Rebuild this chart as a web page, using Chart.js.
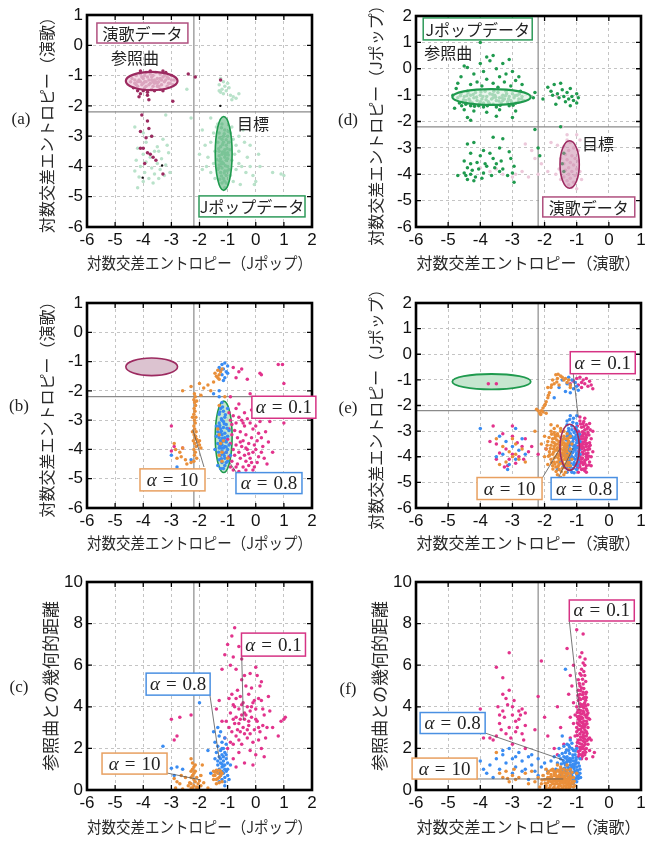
<!DOCTYPE html>
<html lang="ja"><head><meta charset="utf-8">
<script src="https://cdn.jsdelivr.net/npm/chart.js@4.4.1/dist/chart.umd.min.js"></script>
<style>
html,body{margin:0;padding:0;background:#fff;}
#wrap{position:relative;width:657px;height:843px;overflow:hidden;background:#fff;}
#wrap canvas{position:absolute;}
.pl{position:absolute;font:17px "Liberation Serif","DejaVu Serif",serif;color:#222;line-height:1;transform:translate(-50%,-50%);white-space:nowrap;}
</style></head><body>
<div id="wrap">
<canvas id="cA" width="328" height="280" style="left:0;top:0"></canvas>
<canvas id="cD" width="328" height="280" style="left:329px;top:0"></canvas>
<canvas id="cB" width="328" height="280" style="left:0;top:280px"></canvas>
<canvas id="cE" width="328" height="280" style="left:329px;top:280px"></canvas>
<canvas id="cC" width="328" height="283" style="left:0;top:560px"></canvas>
<canvas id="cF" width="328" height="283" style="left:329px;top:560px"></canvas>
<div class="pl" style="left:21px;top:118px">(a)</div>
<div class="pl" style="left:348px;top:119px">(d)</div>
<div class="pl" style="left:19px;top:405px">(b)</div>
<div class="pl" style="left:348px;top:407px">(e)</div>
<div class="pl" style="left:19px;top:686px">(c)</div>
<div class="pl" style="left:348px;top:688px">(f)</div>
</div>
<script>
// ---------- tick labels ----------
const ticksX8 = [-6,-5,-4,-3,-2,-1,0,1,2];
const ticksX7 = [-6,-5,-4,-3,-2,-1,0,1];
const ticksY7 = [-6,-5,-4,-3,-2,-1,0,1];
const ticksY8 = [-6,-5,-4,-3,-2,-1,0,1,2];
const ticksD = [0,2,4,6,8,10];
const refLine = -2.2;
// ---------- axis titles ----------
const T_JP = '対数交差エントロピー（Jポップ）';
const T_EN = '対数交差エントロピー（演歌）';
const T_DIST = '参照曲との幾何的距離';
// ---------- ellipses (center x, center y, radius x, radius y) ----------
const ellEnkaRef = [-3.7,-1.18,0.92,0.3];
const ellJpopTgt = [-1.14,-3.57,0.3,1.22];
const ellJpopRef = [-3.65,-1.07,1.22,0.3];
const ellEnkaTgt = [-1.22,-3.63,0.3,0.9];

// ---------- (a) ----------
const aEnka = [-4.4,-1.1,-4.3,-1.25,-4.25,-1.0,-4.2,-1.35,-4.15,-1.15,-4.1,-0.95,-4.05,-1.3,-4.0,-1.1,-3.95,-1.4,-3.9,-0.9,-3.9,-1.2,-3.85,-1.05,-3.8,-1.3,-3.75,-0.95,-3.7,-1.15,-3.7,-1.45,-3.65,-1.0,-3.6,-1.25,-3.55,-0.9,-3.5,-1.1,-3.5,-1.35,-3.45,-1.2,-3.4,-0.95,-3.35,-1.3,-3.3,-1.05,-3.25,-1.2,-3.2,-0.9,-3.15,-1.35,-3.1,-1.1,-3.05,-1.25,-3.0,-1.0,-2.95,-1.3,-2.9,-1.15,-4.35,-1.4,-4.45,-1.2,-4.2,-1.5,-4.1,-1.6,-4.0,-1.5,-3.85,-1.55,-3.6,-1.5,-3.4,-1.45,-3.3,-1.5,-4.1,-0.85,-3.75,-0.85,-3.3,-0.85,-3.85,-1.65,-4.15,-1.7,-3.95,-1.2,-4.05,-1.05,-3.55,-1.2,-3.25,-1.0,-3.65,-1.35,-4.3,-1.15,-4.2,-1.2,-4.0,-1.25,-3.9,-1.35,-3.8,-1.15,-3.7,-1.05,-3.6,-1.15,-3.5,-1.25,-3.4,-1.1,-3.35,-1.15,-3.2,-1.15,-3.1,-1.25,-3.0,-1.15,-3.15,-1.05,-3.45,-1.35,-3.75,-1.25,-4.1,-1.2,-4.25,-1.3,-3.95,-1.0,-3.65,-1.2,-2.4,-0.95,-2.15,-1.05,-2.95,-1.85,-3.8,-1.8,-1.25,-1.15,-4.05,-2.3,-3.85,-2.5,-3.8,-2.75,-4.1,-2.85,-3.7,-3.0,-3.9,-3.05,-4.0,-3.4,-4.1,-3.4,-3.85,-3.55,-3.75,-3.6,-3.65,-3.7,-3.55,-3.8,-3.3,-4.25,-3.95,-3.9];
const aJpop = [-1.2,-2.6,-1.1,-2.8,-1.3,-2.9,-1.0,-3.0,-1.2,-3.1,-1.15,-3.2,-1.05,-3.3,-1.25,-3.35,-1.1,-3.45,-1.3,-3.5,-1.0,-3.55,-1.2,-3.6,-1.1,-3.7,-1.25,-3.75,-1.05,-3.8,-1.15,-3.9,-1.3,-3.95,-1.0,-4.0,-1.2,-4.05,-1.1,-4.15,-1.25,-4.2,-1.05,-4.3,-1.15,-4.4,-1.2,-4.55,-1.1,-4.7,-0.95,-3.2,-1.35,-3.2,-1.35,-4.1,-0.95,-4.1,-1.15,-3.0,-1.2,-3.85,-1.1,-3.55,-1.0,-3.75,-1.3,-3.65,-0.9,-2.9,-0.8,-3.1,-0.7,-3.3,-0.6,-3.5,-0.75,-3.6,-0.85,-3.8,-0.6,-3.9,-0.5,-4.0,-0.7,-4.1,-0.9,-4.3,-0.8,-4.5,-0.55,-4.6,-0.4,-3.2,-0.3,-3.7,-0.2,-4.0,-0.1,-4.3,0.0,-4.5,-0.35,-4.2,-0.6,-3.0,-0.85,-2.7,-0.45,-2.8,-0.2,-3.3,0.1,-3.6,0.15,-4.0,0.6,-4.2,1.0,-4.3,0.9,-4.25,-0.05,-4.6,-1.5,-2.9,-1.6,-3.2,-1.45,-3.5,-1.7,-3.7,-1.5,-3.9,-1.6,-4.2,-1.45,-4.4,-1.75,-4.0,-1.4,-2.7,-1.8,-3.3,-1.25,-1.1,-1.15,-1.2,-1.3,-1.3,-1.1,-1.35,-1.2,-1.45,-1.05,-1.5,-1.25,-1.55,-1.15,-1.6,-0.9,-1.65,-0.8,-1.7,-0.85,-1.8,-0.7,-1.75,-1.0,-1.25,-1.3,-1.5,-0.95,-1.4,-0.6,-1.6,-4.3,-2.7,-4.0,-2.9,-3.7,-3.0,-3.3,-3.1,-3.9,-3.2,-3.5,-3.35,-4.2,-3.4,-3.6,-3.5,-3.1,-3.55,-4.0,-3.6,-3.75,-3.7,-3.35,-3.75,-4.25,-3.8,-3.9,-3.85,-3.5,-3.9,-3.2,-3.95,-4.1,-4.0,-3.7,-4.05,-3.4,-4.1,-4.3,-4.15,-3.95,-4.2,-3.6,-4.25,-3.25,-4.3,-4.15,-4.35,-3.8,-4.4,-3.45,-4.4,-4.0,-4.5,-3.65,-4.55,-4.2,-4.7,-3.05,-4.2,-3.15,-3.3,-3.45,-3.5,-2.3,-2.4,-3.2,-2.3,-1.9,-2.8,-2.0,-3.6,-1.9,-4.1,-2.45,-1.45,-1.6,-2.4,-1.22,-2.72,-1.12,-2.92,-1.28,-3.05,-1.05,-3.12,-1.18,-3.28,-1.32,-3.42,-1.02,-3.42,-1.18,-3.52,-1.28,-3.82,-1.08,-3.62,-1.22,-3.92,-1.08,-3.98,-1.32,-4.05,-1.12,-4.22,-1.02,-4.15,-1.22,-4.32,-1.12,-4.48,-1.28,-4.42,-1.05,-4.55,-0.98,-3.62,-1.38,-3.78,-0.92,-3.45,-0.98,-2.85,-1.35,-2.6];
const aBlack = [-1.26,-2.0,-3.33,-3.97,-4.02,-4.37];

// ---------- (d) ----------
const dJpop = [-4.7,-1.1,-4.6,-0.95,-4.55,-1.25,-4.5,-1.05,-4.45,-1.35,-4.4,-0.85,-4.35,-1.15,-4.3,-1.0,-4.25,-1.3,-4.2,-1.1,-4.15,-0.9,-4.1,-1.2,-4.05,-1.4,-4.0,-1.0,-3.95,-1.15,-3.9,-1.3,-3.85,-0.85,-3.8,-1.05,-3.75,-1.25,-3.7,-0.95,-3.65,-1.15,-3.6,-1.35,-3.55,-1.0,-3.5,-1.2,-3.45,-0.9,-3.4,-1.1,-3.35,-1.3,-3.3,-1.0,-3.25,-1.15,-3.2,-0.85,-3.15,-1.25,-3.1,-1.05,-3.05,-1.2,-3.0,-0.95,-2.95,-1.1,-2.9,-1.3,-2.85,-1.0,-2.8,-1.15,-2.7,-1.05,-2.65,-1.2,-4.65,-1.3,-4.3,-1.4,-3.9,-1.45,-3.5,-1.45,-3.1,-1.4,-4.45,-1.2,-4.0,-1.25,-3.6,-1.1,-3.3,-1.2,-2.75,-0.85,-4.8,-1.5,-4.5,-1.55,-4.2,-1.6,-3.8,-1.65,-3.4,-1.55,-2.9,-1.6,-4.4,-1.85,-4.3,-1.95,-3.5,-1.8,-3.0,-1.85,-4.85,-1.0,-4.75,-0.75,-4.5,0.1,-4.4,0.05,-4.6,-0.3,-4.2,-0.2,-4.0,0.2,-3.9,-0.1,-3.7,0.3,-3.6,0.5,-3.5,0.0,-3.4,-0.3,-3.8,-0.4,-3.3,0.2,-3.2,-0.2,-3.0,-0.1,-4.1,-0.5,-3.6,-0.55,-3.25,-0.5,-2.9,-0.45,-4.3,-0.6,-3.95,-0.65,-3.45,-0.7,-3.05,-0.65,-2.7,-0.6,-4.7,-0.55,-4.0,1.0,-3.8,0.45,-3.1,0.35,-2.8,-0.3,-2.3,-0.9,-2.35,-1.1,-1.9,-0.7,-1.8,-0.85,-1.7,-0.6,-1.6,-0.95,-1.5,-0.55,-1.45,-0.8,-1.4,-1.05,-1.3,-0.9,-1.25,-1.15,-1.2,-0.75,-1.15,-1.05,-1.1,-1.2,-1.0,-0.95,-0.95,-1.1,-1.35,-1.25,-1.55,-1.1,-1.75,-1.0,-2.05,-1.15,-1.0,-1.3,-1.65,-1.35,-1.2,-1.4,-4.4,-2.85,-4.2,-2.8,-3.9,-3.1,-3.6,-2.6,-3.3,-2.65,-4.3,-3.2,-4.0,-3.3,-3.7,-3.2,-3.4,-3.0,-3.1,-3.15,-4.5,-3.5,-4.3,-3.6,-4.1,-3.55,-3.85,-3.6,-3.6,-3.4,-3.35,-3.5,-3.05,-3.4,-4.4,-3.75,-4.25,-3.85,-4.05,-3.8,-3.8,-3.7,-3.55,-3.75,-3.3,-3.8,-2.95,-3.7,-4.5,-3.95,-4.3,-4.0,-4.15,-4.1,-3.9,-3.95,-3.65,-4.05,-3.4,-3.9,-3.0,-3.95,-4.7,-4.05,-4.4,-4.2,-4.2,-4.25,-3.95,-4.15,-3.15,-4.05,-2.95,-4.3,-4.45,-4.05,-3.5,-3.6,-2.3,-2.3,-2.2,-3.0,-2.15,-3.3,-1.45,-3.6,-1.4,-3.9,-1.4,-3.2,-1.5,-2.2,-4.62,-1.02,-4.52,-1.18,-4.42,-1.02,-4.32,-1.22,-4.22,-0.98,-4.12,-1.08,-4.02,-1.32,-3.92,-1.05,-3.82,-1.18,-3.72,-1.32,-3.62,-0.98,-3.52,-1.08,-3.42,-1.22,-3.32,-1.1,-3.22,-1.02,-3.12,-1.15,-3.02,-1.28,-2.92,-1.02,-2.82,-1.25,-2.72,-1.15,-4.58,-1.4,-4.18,-1.42,-3.78,-1.4,-3.38,-1.38,-2.98,-1.38,-4.38,-0.92,-3.98,-0.88,-3.58,-0.85,-3.18,-0.95,-2.78,-0.95];
const dEnka = [-1.3,-2.7,-1.2,-2.8,-1.4,-2.95,-1.1,-3.0,-1.25,-3.1,-1.35,-3.25,-1.15,-3.3,-1.05,-3.4,-1.3,-3.45,-1.2,-3.55,-1.4,-3.6,-1.1,-3.65,-1.25,-3.75,-1.0,-3.8,-1.35,-3.85,-1.15,-3.9,-1.25,-4.0,-1.05,-4.05,-1.4,-4.1,-1.2,-4.15,-1.3,-4.25,-1.1,-4.3,-1.25,-4.4,-1.15,-4.5,-0.95,-3.5,-0.9,-3.9,-0.95,-3.1,-1.5,-3.4,-1.55,-3.8,-1.5,-4.2,-1.6,-2.9,-1.65,-4.0,-0.85,-4.2,-0.9,-2.7,-1.0,-2.5,-1.3,-2.5,-1.45,-2.2,-1.0,-4.55,-2.6,-2.85,-2.4,-3.1,-2.9,-4.0,-3.0,-4.1,-3.5,-3.8,-3.3,-4.0,-2.7,-3.9,-2.5,-4.1,-2.2,-4.0,-3.7,-3.9,-4.0,-3.75,-2.1,-3.6,-1.9,-3.9,-2.3,-3.4,-1.8,-2.8,-1.6,-1.05,-2.6,-1.2];

// ---------- (b) ----------
const bA10 = [-2.18,-2.1,-2.15,-2.2,-2.2,-2.3,-2.17,-2.4,-2.14,-2.5,-2.19,-2.6,-2.16,-2.7,-2.2,-2.8,-2.13,-2.9,-2.18,-3.0,-2.15,-3.1,-2.2,-3.2,-2.17,-3.3,-2.12,-3.4,-2.19,-3.5,-2.15,-3.6,-2.1,-3.65,-2.22,-3.7,-2.17,-3.8,-2.05,-3.75,-2.0,-3.85,-2.12,-3.9,-2.2,-4.0,-2.15,-4.1,-2.18,-4.2,-2.1,-4.3,-2.0,-3.7,-1.95,-3.95,-2.1,-2.35,-2.14,-3.55,-2.2,-4.4,-2.25,-3.4,-2.25,-2.9,-1.35,-1.3,-1.3,-1.45,-1.25,-1.35,-1.4,-1.5,-1.3,-1.6,-1.2,-1.25,-1.45,-1.4,-1.35,-1.55,-1.5,-1.7,-1.7,-1.8,-1.85,-1.9,-2.0,-1.75,-2.3,-1.85,-2.6,-2.0,-1.6,-2.0,-1.95,-2.15,-1.1,-2.2,-2.9,-3.8,-2.85,-4.0,-2.7,-4.1,-2.65,-4.25,-2.5,-4.35,-2.45,-4.5,-2.3,-4.45,-2.8,-4.3,-2.6,-3.95,-1.3,-3.5,-1.25,-3.8,-1.2,-4.1,-1.3,-4.2,-1.35,-3.3,-1.15,-3.7,-1.3,-2.5,-1.2,-4.4,-1.0,-4.3];
const bA08 = [-1.2,-2.4,-1.25,-2.6,-1.15,-2.7,-1.3,-2.8,-1.1,-2.9,-1.2,-3.0,-1.3,-3.1,-1.05,-3.15,-1.15,-3.25,-1.25,-3.3,-1.35,-3.4,-1.1,-3.45,-1.2,-3.5,-1.0,-3.55,-1.3,-3.6,-1.15,-3.65,-1.25,-3.7,-1.05,-3.75,-1.35,-3.8,-1.2,-3.85,-1.1,-3.9,-1.3,-3.95,-1.0,-4.0,-1.2,-4.05,-1.15,-4.15,-1.25,-4.2,-1.1,-4.3,-1.3,-4.35,-1.2,-4.45,-1.1,-4.55,-1.25,-4.65,-0.95,-3.35,-0.95,-3.85,-1.4,-3.55,-1.45,-4.0,-1.4,-3.2,-1.0,-4.4,-1.15,-3.05,-1.2,-3.75,-1.1,-3.6,-1.25,-3.45,-1.05,-4.1,-1.3,-3.25,-1.15,-3.95,-0.9,-4.2,-1.0,-2.6,-1.3,-2.2,-1.3,-2.0,-1.2,-1.1,-1.1,-1.05,-1.0,-1.15,-1.15,-1.25,-1.25,-1.3,-1.05,-1.35,-1.2,-1.45,-1.1,-1.55,-1.15,-1.65,-1.3,-1.2,-1.0,-1.4,-3.0,-4.2,-2.8,-4.6,-2.3,-4.35,-1.5,-2.1,-1.18,-2.55,-1.28,-2.72,-1.08,-2.82,-1.22,-2.95,-1.12,-3.12,-1.28,-3.18,-1.02,-3.28,-1.22,-3.38,-1.32,-3.52,-1.08,-3.72,-1.18,-3.62,-1.28,-3.88,-1.05,-3.92,-1.22,-3.95,-1.32,-4.1,-1.12,-4.22,-1.22,-4.32,-1.05,-4.45,-1.15,-4.65,-1.35,-4.55];
const bA01 = [-0.9,-3.0,-0.8,-2.85,-0.7,-3.1,-0.6,-2.9,-0.5,-3.0,-0.4,-3.2,-0.3,-2.95,-0.2,-3.1,-0.1,-3.3,0.0,-3.2,0.1,-3.45,0.2,-3.6,-0.95,-3.3,-0.85,-3.5,-0.75,-3.35,-0.65,-3.6,-0.55,-3.4,-0.45,-3.7,-0.35,-3.5,-0.25,-3.8,-0.15,-3.6,-0.05,-3.85,0.05,-3.7,-0.9,-3.8,-0.8,-4.0,-0.7,-3.85,-0.6,-4.1,-0.5,-3.9,-0.4,-4.2,-0.3,-4.0,-0.2,-4.3,-0.1,-4.1,0.0,-4.0,0.1,-4.25,0.2,-4.1,-0.95,-4.25,-0.85,-4.4,-0.75,-4.2,-0.65,-4.5,-0.55,-4.3,-0.45,-4.6,-0.35,-4.4,-0.25,-4.55,-0.15,-4.45,-0.05,-4.6,0.05,-4.45,-0.8,-4.7,-0.6,-4.75,-0.35,-4.7,-0.1,-4.7,0.25,-3.9,0.3,-4.3,0.35,-3.4,-1.0,-3.65,-1.05,-4.1,-0.7,-2.6,-0.6,-2.45,-0.4,-2.75,-0.15,-2.65,0.1,-2.9,0.7,-2.9,1.0,-3.1,0.5,-3.05,0.45,-3.75,0.6,-4.1,0.4,-4.5,-0.85,-3.15,-0.55,-3.75,-0.25,-4.15,-0.45,-3.1,-0.35,-3.95,-0.7,-4.6,0.15,-3.05,-0.9,-4.6,-0.95,-2.75,0.8,-1.1,0.95,-1.1,1.0,-1.75,0.2,-1.45,0.15,-1.4,-0.3,-1.6,-0.6,-1.35,-0.8,-1.2,-0.2,-2.1,-0.7,-1.55,-0.5,-1.25,-0.9,-2.2,-3.0,-3.2,-2.9,-3.9,-2.6,-3.95,-3.0,-4.05,-2.5,-4.7];

// ---------- (e) ----------
const eA10 = [-1.8,-3.0,-1.7,-2.9,-1.6,-3.1,-1.5,-3.0,-1.4,-3.2,-1.3,-3.1,-1.75,-3.3,-1.65,-3.2,-1.55,-3.4,-1.45,-3.35,-1.35,-3.5,-1.25,-3.4,-1.8,-3.55,-1.7,-3.6,-1.6,-3.5,-1.5,-3.7,-1.4,-3.65,-1.3,-3.8,-1.2,-3.7,-1.85,-3.8,-1.75,-3.9,-1.65,-3.75,-1.55,-3.95,-1.45,-3.85,-1.35,-4.0,-1.25,-3.95,-1.8,-4.1,-1.7,-4.05,-1.6,-4.2,-1.5,-4.1,-1.4,-4.3,-1.3,-4.2,-1.2,-4.35,-1.75,-4.35,-1.65,-4.4,-1.55,-4.5,-1.45,-4.45,-1.35,-4.6,-1.9,-3.4,-1.95,-3.7,-2.0,-4.0,-1.9,-4.3,-1.6,-3.65,-1.5,-3.85,-1.4,-3.45,-1.3,-3.6,-1.7,-3.45,-1.55,-4.3,-1.65,-4.0,-1.45,-4.0,-1.35,-4.1,-1.25,-4.5,-1.15,-4.1,-1.15,-3.5,-1.2,-3.2,-1.6,-2.8,-1.8,-2.75,-2.0,-3.2,-2.1,-3.5,-1.4,-4.7,-1.5,-4.8,-1.5,-3.25,-1.7,-4.2,-1.6,-3.9,-1.4,-3.9,-1.72,-3.7,-1.62,-3.35,-1.52,-3.55,-1.42,-3.75,-1.32,-3.95,-1.58,-4.05,-1.48,-4.25,-1.68,-3.15,-1.38,-3.3,-1.28,-4.35,-1.78,-3.12,-1.68,-3.28,-1.58,-3.18,-1.48,-3.42,-1.38,-3.58,-1.28,-3.48,-1.82,-3.68,-1.72,-3.82,-1.62,-3.72,-1.52,-3.62,-1.42,-4.12,-1.32,-3.72,-1.22,-3.88,-1.88,-3.98,-1.78,-4.22,-1.68,-4.28,-1.58,-4.38,-1.48,-4.58,-1.38,-4.42,-1.28,-4.08,-1.66,-3.52,-1.56,-3.78,-1.46,-3.52,-1.36,-3.82,-1.26,-3.28,-1.76,-3.42,-1.86,-3.25,-1.92,-3.55,-1.64,-4.58,-1.54,-4.12,-1.44,-4.22,-1.34,-4.32,-1.24,-4.22,-1.74,-4.48,-1.84,-3.92,-1.5,-2.9,-1.4,-3.0,-1.3,-3.3,-1.7,-3.05,-1.6,-4.7,-2.1,-2.2,-2.05,-2.1,-2.15,-2.3,-2.0,-2.0,-1.95,-1.85,-1.9,-1.7,-1.85,-1.5,-1.8,-1.3,-1.7,-1.15,-1.6,-0.95,-1.5,-0.85,-1.75,-1.0,-1.4,-1.0,-1.3,-1.1,-1.55,-1.2,-1.65,-0.8,-1.2,-1.2,-2.2,-2.2,-2.25,-2.15,-1.95,-2.3,-1.9,-1.3,-2.05,-2.25,-1.98,-1.95,-1.88,-1.6,-1.78,-1.2,-1.62,-1.08,-1.45,-0.9,-1.35,-0.95,-1.25,-1.0,-1.58,-0.78,-2.12,-2.35,-1.2,-1.3,-3.5,-3.3,-3.3,-3.6,-3.1,-3.8,-2.9,-3.9,-3.0,-4.0,-2.8,-4.1,-3.2,-4.2,-2.9,-3.5,-3.4,-4.3,-2.7,-3.7,-3.0,-3.3,-2.6,-4.2,-2.3,-3.0];
const eA08 = [-1.2,-2.4,-1.1,-2.5,-1.3,-2.6,-1.0,-2.7,-1.15,-2.8,-1.25,-2.9,-1.05,-3.0,-1.2,-3.1,-1.3,-3.2,-0.95,-3.25,-1.1,-3.3,-1.25,-3.4,-1.0,-3.45,-1.15,-3.5,-1.3,-3.6,-0.95,-3.65,-1.1,-3.7,-1.2,-3.8,-1.0,-3.85,-1.3,-3.9,-1.15,-4.0,-1.05,-4.1,-1.25,-4.15,-0.95,-4.2,-1.1,-4.3,-1.2,-4.4,-1.0,-4.5,-1.15,-4.6,-1.3,-4.45,-1.35,-3.7,-1.4,-3.3,-1.05,-3.75,-1.15,-3.2,-1.2,-4.05,-1.05,-3.55,-1.1,-4.45,-0.9,-3.9,-0.9,-3.4,-1.25,-3.0,-1.35,-4.1,-1.5,-4.2,-1.45,-3.9,-1.6,-4.5,-1.3,-2.75,-1.0,-2.95,-1.05,-4.3,-1.12,-3.4,-1.22,-3.55,-1.02,-3.15,-1.18,-3.95,-1.08,-3.6,-1.28,-3.75,-0.98,-4.05,-1.22,-2.55,-1.12,-2.65,-1.02,-2.85,-1.28,-3.05,-1.18,-3.25,-1.08,-3.05,-0.98,-3.35,-1.32,-3.35,-1.22,-3.45,-1.12,-3.55,-1.02,-3.65,-1.32,-3.78,-1.22,-3.68,-1.12,-3.82,-1.02,-3.95,-1.28,-4.02,-1.18,-4.12,-1.08,-4.22,-0.98,-4.35,-1.28,-4.28,-1.18,-4.52,-1.08,-4.62,-0.92,-3.12,-0.92,-3.75,-1.38,-3.95,-1.42,-4.38,-1.15,-2.95,-1.25,-3.15,-1.05,-3.25,-1.15,-3.85,-1.1,-4.05,-1.2,-4.25,-0.95,-4.05,-1.3,-4.6,-1.0,-2.4,-1.25,-0.9,-1.15,-1.0,-1.05,-1.1,-1.2,-1.2,-1.1,-1.35,-1.0,-1.25,-1.3,-1.15,-1.55,-1.3,-1.45,-1.0,-0.95,-1.4,-1.2,-1.5,-1.35,-1.45,-1.7,-1.7,-4.0,-2.9,-3.4,-3.2,-3.2,-3.4,-3.0,-3.6,-2.8,-3.75,-3.3,-3.9,-2.9,-4.1,-3.1,-4.3,-2.7,-3.3,-3.5,-4.0,-2.6,-3.9,-2.9,-2.9,-3.15,-4.5];
const eA01 = [-0.9,-2.6,-0.8,-2.7,-0.7,-2.75,-0.85,-2.85,-0.75,-2.95,-0.95,-3.0,-0.65,-3.05,-0.8,-3.1,-0.9,-3.2,-0.7,-3.25,-0.85,-3.3,-0.75,-3.4,-0.95,-3.45,-0.6,-3.45,-0.8,-3.5,-0.9,-3.6,-0.7,-3.6,-0.85,-3.7,-0.75,-3.75,-0.95,-3.8,-0.65,-3.85,-0.8,-3.9,-0.9,-4.0,-0.7,-4.0,-0.85,-4.1,-0.75,-4.15,-0.95,-4.2,-0.6,-4.2,-0.8,-4.3,-0.9,-4.4,-0.7,-4.35,-0.85,-4.5,-0.75,-4.55,-1.0,-3.35,-1.0,-3.9,-1.0,-4.3,-1.05,-2.9,-0.6,-3.7,-0.55,-3.3,-0.5,-3.0,-0.55,-4.0,-0.65,-2.85,-0.9,-2.45,-0.75,-2.5,-0.8,-3.2,-0.7,-3.15,-0.9,-3.95,-0.75,-4.25,-0.85,-3.55,-0.95,-4.6,-0.72,-3.52,-0.82,-3.62,-0.68,-3.95,-0.88,-4.22,-0.78,-2.82,-0.62,-3.6,-0.88,-2.72,-0.78,-2.62,-0.68,-2.92,-0.92,-3.08,-0.82,-3.02,-0.72,-3.35,-0.62,-3.15,-0.92,-3.32,-0.82,-3.42,-0.68,-3.48,-0.88,-3.52,-0.78,-3.65,-0.66,-3.72,-0.92,-3.72,-0.82,-3.82,-0.72,-3.88,-0.62,-3.98,-0.92,-3.88,-0.82,-4.05,-0.72,-4.12,-0.62,-4.32,-0.92,-4.12,-0.82,-4.22,-0.72,-4.45,-0.92,-4.32,-0.8,-4.48,-0.7,-4.6,-0.58,-3.55,-0.58,-2.95,-0.55,-4.35,-0.5,-3.8,-0.6,-2.7,-0.98,-2.8,-0.98,-3.6,-0.98,-4.45,-0.76,-3.08,-0.86,-3.18,-0.66,-4.08,-0.76,-3.3,-1.0,-0.95,-0.9,-0.9,-0.8,-1.0,-0.7,-0.95,-0.85,-1.1,-0.75,-1.15,-0.95,-1.2,-0.6,-1.05,-0.55,-1.2,-0.5,-1.35,-0.65,-1.25,-1.1,-1.05,-1.2,-1.15,-0.85,-1.3,-3.75,-1.15,-3.5,-1.15,-3.6,-2.8,-3.3,-3.1,-3.5,-3.5,-3.2,-3.7,-3.0,-3.2,-2.85,-3.45,-3.0,-3.9,-2.8,-4.0,-3.1,-4.1,-2.7,-3.6,-3.4,-3.85,-2.6,-3.3,-3.15,-4.35,-2.9,-4.25,-3.5,-4.1,-2.5,-3.8,-2.2,-3.9,-2.4,-3.6,-3.0,-2.8,-3.25,-4.4,-2.65,-4.1,-3.7,-3.4,-1.95,-3.7];

// ---------- (c) ----------
const cA10 = [-2.3,1.5,-2.25,1.3,-2.2,1.1,-2.3,0.9,-2.25,0.7,-2.2,0.5,-2.3,0.3,-2.25,0.1,-2.15,0.9,-2.2,0.2,-2.1,0.6,-2.05,0.3,-2.15,1.2,-2.1,0.05,-2.0,0.45,-2.3,0.6,-2.25,1.0,-2.2,0.8,-2.15,0.4,-2.1,0.15,-1.95,0.2,-1.9,1.2,-1.85,0.35,-1.95,0.7,-2.3,0.1,-2.05,0.1,-2.35,0.35,-1.5,0.9,-1.45,0.7,-1.4,0.5,-1.35,0.8,-1.3,0.6,-1.25,0.9,-1.2,0.4,-1.5,0.5,-1.4,0.3,-1.3,0.35,-1.45,0.85,-1.25,0.7,-1.35,0.55,-1.2,0.8,-1.5,0.7,-1.4,0.95,-1.3,0.95,-2.9,0.55,-2.85,0.1,-2.7,0.3,-2.6,0.05,-2.5,0.6,-2.4,0.2,-2.8,0.4,-1.7,0.1,-1.6,0.0,-2.65,0.7];
const cA08 = [-1.3,0.4,-1.2,0.5,-1.1,0.6,-1.25,0.7,-1.15,0.8,-1.05,0.9,-1.3,1.0,-1.2,1.1,-1.1,1.2,-1.25,1.3,-1.15,1.4,-1.05,1.5,-1.3,1.6,-1.2,1.7,-1.1,1.8,-1.25,1.9,-1.15,2.0,-1.35,2.1,-1.2,2.3,-1.1,2.5,-1.3,2.6,-1.0,1.3,-1.0,0.7,-1.35,1.2,-1.4,0.9,-1.45,1.5,-1.2,0.9,-1.1,1.0,-1.15,1.6,-1.25,1.5,-1.05,2.2,-1.4,1.8,-1.2,1.25,-1.1,0.4,-1.3,0.8,-1.15,1.15,-1.05,1.7,-1.2,2.0,-1.35,1.4,-1.0,1.0,-1.45,2.3,-1.5,2.8,-1.35,3.0,-1.25,2.8,-1.1,0.2,-0.95,0.5,-0.9,1.2,-2.0,4.2,-3.3,2.1,-3.0,1.05,-2.8,1.1,-2.6,1.0,-2.9,0.7,-1.6,0.8,-1.7,1.9];
const cA01 = [-1.0,2.0,-0.9,2.3,-0.8,1.5,-0.7,2.6,-0.6,1.8,-0.5,2.2,-0.4,1.3,-0.3,2.5,-0.2,1.9,-0.1,2.3,0.0,1.7,0.1,2.4,0.2,2.0,-0.95,3.0,-0.85,2.8,-0.75,3.2,-0.65,2.9,-0.55,3.4,-0.45,3.0,-0.35,3.6,-0.25,3.1,-0.15,3.5,-0.05,2.9,0.05,3.3,0.15,2.8,0.25,3.1,-0.9,3.7,-0.8,4.1,-0.7,3.5,-0.6,3.9,-0.5,4.1,-0.4,3.7,-0.3,4.0,-0.2,3.8,-0.1,4.2,0.0,3.9,0.1,4.4,0.2,4.3,0.3,3.6,-0.95,4.4,-0.85,4.6,-0.75,4.0,-0.65,4.8,-0.55,4.5,-0.45,4.2,-0.35,5.0,-0.25,4.6,-0.15,4.9,-0.05,4.3,0.05,5.5,0.15,5.0,-1.05,3.3,-1.1,2.5,-0.6,2.4,-0.3,2.9,-0.4,3.4,-0.8,3.4,-0.5,3.6,-0.2,2.7,0.0,3.4,0.35,2.5,0.4,3.0,0.5,3.8,0.6,3.0,0.8,2.6,1.0,3.4,1.05,3.5,0.9,3.3,0.3,1.6,-0.1,1.2,-0.7,1.1,-0.5,5.3,-0.7,5.8,-0.4,5.5,-0.9,6.0,-0.8,6.4,-0.6,6.9,-1.0,7.0,-0.85,7.4,-0.75,7.8,-1.1,6.5,-0.5,6.3,0.0,5.9,-1.2,5.8,-1.3,4.3,-1.4,3.9,-1.2,3.3,-0.2,5.6,0.2,5.2,-0.6,3.2,-0.4,2.7,-0.8,2.2,0.1,3.0,-0.25,3.3,-0.55,2.8,-0.15,4.0,-0.7,4.4,0.25,3.9,0.45,4.5,-3.0,3.4,-2.9,2.4,-2.8,2.6,-2.7,3.5,-2.3,3.6];

// ---------- (f) ----------
const fA10 = [-2.0,0.5,-1.9,0.8,-1.8,0.4,-1.7,0.7,-1.6,0.3,-1.5,0.6,-1.4,0.2,-1.3,0.5,-1.2,0.3,-1.1,0.6,-1.95,0.2,-1.85,0.6,-1.75,1.0,-1.65,0.5,-1.55,0.9,-1.45,0.4,-1.35,0.8,-1.25,0.1,-1.15,0.4,-1.05,0.2,-1.9,0.35,-1.8,0.75,-1.7,0.15,-1.6,0.65,-1.5,1.1,-1.4,0.55,-1.3,0.95,-1.2,0.7,-1.1,0.15,-2.05,0.7,-2.1,0.3,-1.75,0.3,-1.55,0.45,-1.45,0.75,-1.35,0.35,-1.25,0.6,-1.65,0.85,-1.85,0.1,-1.95,1.0,-1.5,0.2,-1.6,1.2,-1.3,1.2,-1.4,1.0,-1.2,1.0,-1.7,0.5,-1.55,0.7,-1.45,0.1,-1.35,0.65,-1.25,0.4,-1.15,0.85,-2.2,0.6,-2.3,0.4,-2.4,0.9,-2.5,0.3,-1.0,0.8,-1.62,0.42,-1.52,0.32,-1.42,0.62,-1.32,0.22,-1.22,0.52,-1.72,0.92,-1.82,0.55,-1.38,0.45,-1.48,0.88,-1.58,0.15,-1.28,0.78,-1.18,0.18,-1.92,0.52,-1.82,0.22,-1.72,0.42,-1.62,0.62,-1.52,0.82,-1.42,0.32,-1.32,0.72,-1.22,0.12,-1.12,0.32,-1.88,0.88,-1.78,0.62,-1.68,0.28,-1.58,0.52,-1.48,0.38,-1.38,0.58,-1.28,0.28,-1.18,0.58,-1.08,0.42,-1.98,0.32,-1.66,0.72,-1.56,0.58,-1.46,0.52,-1.36,0.48,-1.26,0.82,-1.76,0.52,-1.86,0.45,-1.64,0.35,-1.54,0.25,-1.44,0.65,-1.34,0.15,-1.24,0.22,-1.74,0.08,-1.64,0.05,-1.54,0.05,-1.44,0.08,-1.34,0.05,-1.6,0.95,-1.5,1.0,-1.4,0.85,-1.7,0.82,-1.8,0.95,-1.9,0.6,-2.08,0.48,-2.15,0.15,-1.95,0.08,-1.2,0.5,-1.3,0.4,-1.4,0.42,-1.5,0.5,-1.6,0.45,-3.3,0.6,-3.2,0.9,-3.1,0.4,-3.0,0.7,-2.95,1.0,-2.9,0.5,-3.4,0.8,-2.8,0.6,-3.5,1.8,-3.15,0.55,-2.6,0.8];
const fA08 = [-1.5,1.5,-1.4,1.3,-1.3,1.6,-1.2,1.2,-1.1,1.4,-1.0,1.1,-1.45,1.0,-1.35,0.9,-1.25,1.0,-1.15,0.8,-1.05,0.9,-0.95,0.7,-1.5,0.7,-1.4,0.6,-1.3,0.5,-1.2,0.6,-1.1,0.5,-1.0,0.4,-1.35,1.8,-1.25,1.9,-1.15,2.0,-1.05,1.7,-1.3,2.2,-1.2,2.4,-1.0,2.0,-1.4,2.1,-1.1,1.9,-0.9,1.0,-0.95,1.3,-1.25,1.4,-1.15,1.1,-1.35,1.2,-1.05,1.25,-1.2,0.95,-1.3,0.75,-1.45,1.75,-1.6,1.3,-1.7,1.6,-1.65,1.0,-1.55,2.0,-1.0,0.6,-0.9,0.8,-1.1,0.3,-1.2,0.25,-1.35,5.8,-1.45,2.6,-1.12,1.55,-1.02,1.45,-1.22,1.75,-0.98,0.95,-1.08,1.15,-1.18,1.45,-1.42,1.42,-1.32,1.32,-1.22,1.52,-1.12,1.22,-1.02,1.32,-1.38,1.05,-1.28,1.12,-1.18,0.88,-1.08,1.02,-0.98,0.85,-1.45,0.85,-1.35,0.68,-1.25,0.62,-1.15,0.68,-1.05,0.52,-0.95,0.55,-1.32,1.92,-1.22,2.05,-1.12,1.68,-1.02,1.55,-0.92,1.15,-1.4,1.6,-1.3,1.45,-1.2,1.35,-1.1,1.12,-1.0,0.75,-1.25,2.15,-1.15,2.25,-1.05,1.88,-1.35,1.55,-1.48,1.25,-1.55,1.65,-1.58,0.95,-0.88,0.6,-0.9,1.5,-1.2,1.05,-1.1,0.85,-1.3,0.95,-4.0,1.4,-3.8,0.8,-3.7,1.2,-3.5,1.5,-3.4,1.0,-3.3,1.7,-3.2,1.3,-3.1,2.0,-3.0,1.5,-2.9,1.1,-2.8,1.8,-2.7,1.4,-2.6,1.0,-2.5,1.6,-2.4,1.2,-2.3,0.9,-2.2,1.5,-2.1,1.1,-2.0,1.3,-1.9,0.9,-3.6,0.6,-3.0,0.8,-2.5,0.5,-3.3,1.9,-2.9,1.6,-2.7,0.9,-2.2,0.7,-1.8,1.4,-3.9,1.0,-2.4,1.7];
const fA01 = [-0.95,1.6,-0.85,1.5,-0.75,1.7,-0.9,1.9,-0.8,1.8,-0.7,2.0,-1.0,2.1,-0.85,2.2,-0.75,2.3,-0.95,2.4,-0.8,2.5,-0.7,2.6,-0.9,2.7,-0.85,2.8,-0.75,2.9,-1.0,3.0,-0.9,3.1,-0.8,3.2,-0.7,3.3,-0.95,3.4,-0.85,3.5,-0.75,3.6,-0.9,3.7,-0.8,3.8,-0.7,3.9,-1.0,4.0,-0.85,4.1,-0.75,4.2,-0.95,4.3,-0.8,4.4,-0.9,4.6,-0.7,4.7,-0.85,4.9,-0.8,5.1,-0.95,5.3,-0.75,5.5,-0.85,5.8,-0.8,6.1,-0.9,6.4,-0.75,6.0,-0.95,4.8,-1.05,3.6,-1.05,2.6,-0.65,2.2,-0.65,3.0,-0.65,3.7,-0.6,2.5,-0.6,1.9,-0.9,2.05,-0.8,2.65,-0.75,3.05,-0.85,3.25,-0.95,3.85,-0.7,4.45,-0.8,3.0,-0.9,3.3,-0.8,2.35,-0.75,1.95,-0.85,1.7,-0.7,3.5,-0.9,4.15,-0.8,4.7,-1.1,4.2,-1.15,5.0,-1.2,5.5,-1.3,6.8,-1.0,7.7,-0.8,7.5,-1.1,6.0,-0.9,5.6,-1.2,3.5,-1.25,4.6,-0.55,2.4,-0.5,1.6,-0.45,1.8,-0.6,3.4,-1.0,2.8,-1.1,3.2,-0.95,1.85,-0.75,2.45,-0.85,3.65,-0.7,2.8,-0.8,4.0,-0.95,2.9,-0.7,1.5,-0.65,4.1,-0.9,5.0,-1.2,2.5,-1.4,2.2,-1.5,3.0,-1.6,4.0,-1.7,2.0,-1.6,1.7,-0.88,2.55,-0.78,2.75,-0.72,3.15,-0.82,3.45,-0.92,3.55,-0.78,3.95,-0.88,4.35,-0.72,4.05,-0.82,2.05,-0.92,2.25,-0.92,1.72,-0.82,1.62,-0.72,1.82,-0.88,1.98,-0.78,2.12,-0.68,2.38,-0.98,2.28,-0.88,2.42,-0.78,2.58,-0.68,2.72,-0.98,2.62,-0.88,2.92,-0.78,3.12,-0.68,3.18,-0.98,3.22,-0.88,3.42,-0.78,3.32,-0.68,3.62,-0.98,3.52,-0.88,3.82,-0.78,3.72,-0.68,3.82,-0.98,3.72,-0.88,4.02,-0.78,4.12,-0.72,4.32,-0.92,4.42,-0.82,4.58,-0.72,4.62,-0.88,4.78,-0.78,4.88,-0.82,5.32,-0.92,5.12,-0.72,5.22,-0.86,5.52,-0.78,5.7,-0.74,6.3,-0.84,6.6,-0.82,2.0,-0.74,2.2,-0.84,3.05,-0.94,3.15,-0.64,2.45,-0.64,3.45,-0.96,4.55,-0.76,4.45,-3.5,2.6,-3.4,3.2,-3.3,3.8,-3.2,4.4,-3.1,3.0,-3.0,3.6,-2.9,2.8,-2.8,3.4,-2.7,3.9,-2.6,3.1,-3.45,4.0,-3.35,2.9,-3.25,3.5,-3.15,4.1,-3.05,2.5,-2.95,4.3,-2.85,3.0,-2.75,3.6,-2.65,2.4,-3.6,2.4,-3.3,4.6,-3.1,4.8,-2.9,3.3,-3.0,2.2,-2.8,3.8,-3.2,2.7,-3.4,3.6,-2.7,2.7,-3.0,4.0,-2.6,3.7,-3.5,5.9,-3.1,6.6,-3.3,5.4,-4.0,3.9,-3.9,2.5,-3.7,2.5,-2.2,4.5,-2.1,6.2,-2.0,3.5,-1.9,2.6,-2.3,2.9,-2.6,2.0];

// ---------- colours ----------
const C_ENKA='#9c2a60', C_ENKA_FADE='#ecc8da', C_JPOP='#1f9a4e', C_JPOP_FADE='#b9e2ca';
const C_A01='#e2338c', C_A08='#3a8cf2', C_A10='#e98f3a';
const B_ENKA='#b0507f', B_JPOP='#2e9a5a', B_A01='#d63384', B_A08='#4a90e2', B_A10='#e8a060';

function pts(a){const r=[];for(let i=0;i<a.length;i+=2)r.push({x:a[i],y:a[i+1]});return r;}
function ds(arr,col,r){return {data:pts(arr),backgroundColor:col,borderWidth:0,pointRadius:r||1.75,pointHoverRadius:0};}

function makeChart(id, c){
  const canvas=document.getElementById(id);
  const plugin={
    id:'decor'+id,
    beforeDatasetsDraw(chart){
      const {ctx,chartArea:a,scales:{x,y}}=chart;
      ctx.save();
      ctx.beginPath();ctx.rect(a.left,a.top,a.right-a.left,a.bottom-a.top);ctx.clip();
      ctx.strokeStyle='#8a8a8a';ctx.lineWidth=1.2;
      if(c.refX){const p=x.getPixelForValue(refLine);ctx.beginPath();ctx.moveTo(p,a.top);ctx.lineTo(p,a.bottom);ctx.stroke();}
      if(c.refY){const p=y.getPixelForValue(refLine);ctx.beginPath();ctx.moveTo(a.left,p);ctx.lineTo(a.right,p);ctx.stroke();}
      (c.ellipses||[]).filter(e=>!e.after).forEach(e=>drawEll(ctx,x,y,e));
      ctx.restore();
    },
    afterDatasetsDraw(chart){
      const {ctx,chartArea:a,scales:{x,y}}=chart;
      ctx.save();
      ctx.beginPath();ctx.rect(a.left,a.top,a.right-a.left,a.bottom-a.top);ctx.clip();
      (c.ellipses||[]).filter(e=>e.after).forEach(e=>drawEll(ctx,x,y,e));
      ctx.restore();
      ctx.save();ctx.strokeStyle='#555';ctx.lineWidth=0.8;
      (c.leaders||[]).forEach(l=>{ctx.beginPath();ctx.moveTo(x.getPixelForValue(l[0]),y.getPixelForValue(l[1]));ctx.lineTo(x.getPixelForValue(l[2]),y.getPixelForValue(l[3]));ctx.stroke();});
      ctx.restore();
      ctx.save();ctx.strokeStyle='#000';ctx.lineWidth=1.3;
      const tl=5;
      x.ticks.forEach(t=>{const p=x.getPixelForValue(t.value);ctx.beginPath();ctx.moveTo(p,a.bottom);ctx.lineTo(p,a.bottom-tl);ctx.moveTo(p,a.top);ctx.lineTo(p,a.top+tl);ctx.stroke();});
      y.ticks.forEach(t=>{const p=y.getPixelForValue(t.value);ctx.beginPath();ctx.moveTo(a.left,p);ctx.lineTo(a.left+tl,p);ctx.moveTo(a.right,p);ctx.lineTo(a.right-tl,p);ctx.stroke();});
      ctx.lineWidth=2.6;ctx.strokeRect(a.left,a.top,a.right-a.left,a.bottom-a.top);
      ctx.restore();
      ctx.save();
      (c.texts||[]).forEach(t=>{
        ctx.font='16px "Noto Sans CJK JP"';ctx.fillStyle='#222';ctx.textAlign='center';ctx.textBaseline='middle';
        ctx.fillText(t.text,x.getPixelForValue(t.x),y.getPixelForValue(t.y));
      });
      (c.boxes||[]).forEach(b=>{
        const cx=x.getPixelForValue(b.x), cy=y.getPixelForValue(b.y);
        ctx.fillStyle='#fff';ctx.fillRect(cx-b.w/2,cy-b.h/2,b.w,b.h);
        ctx.strokeStyle=b.color;ctx.lineWidth=1.5;ctx.strokeRect(cx-b.w/2,cy-b.h/2,b.w,b.h);
        ctx.fillStyle='#222';ctx.textBaseline='middle';
        if(b.alpha!==undefined){
          const fI='italic 19px "Liberation Serif"', fR='19px "Liberation Serif"';
          ctx.font=fI;const wa=ctx.measureText('α').width;
          ctx.font=fR;const we=ctx.measureText('=').width, wv=ctx.measureText(b.alpha).width;
          const gap=6, tot=wa+gap+we+gap+wv; let x0=cx-tot/2;
          ctx.textAlign='left';
          ctx.font=fI;ctx.fillText('α',x0,cy+1);x0+=wa+gap;
          ctx.font=fR;ctx.fillText('=',x0,cy+1);x0+=we+gap;ctx.fillText(b.alpha,x0,cy+1);
        } else {
          ctx.font='16px "Noto Sans CJK JP"';ctx.textAlign='center';ctx.fillText(b.text,cx,cy+1);
        }
      });
      ctx.restore();
    }
  };
  return new Chart(canvas,{
    type:'scatter',
    data:{datasets:c.datasets},
    options:{
      responsive:false,animation:false,events:[],
      layout:{padding:{left:0,right:16,top:c.top,bottom:0}},
      plugins:{legend:{display:false},tooltip:{enabled:false}},
      scales:{
        x:{type:'linear',min:c.xTicks[0],max:c.xTicks[c.xTicks.length-1],
          afterBuildTicks:s=>{s.ticks=c.xTicks.map(v=>({value:v}));},
          afterFit:s=>{s.height=c.xH;},
          ticks:{autoSkip:false,maxRotation:0,padding:3,color:'#111',font:{family:'"Liberation Sans", Arial, sans-serif',size:17}},
          grid:{color:'#c4c4c4',lineWidth:1,drawTicks:false},
          border:{display:false,dash:[3,3]},
          title:{display:true,text:c.xTitle,color:'#2a2a2a',padding:{top:0,bottom:c.xTitlePad},font:{family:'"Noto Sans CJK JP"',size:16}}},
        y:{type:'linear',min:c.yTicks[0],max:c.yTicks[c.yTicks.length-1],
          afterBuildTicks:s=>{s.ticks=c.yTicks.map(v=>({value:v}));},
          afterFit:s=>{s.width=87;},
          ticks:{autoSkip:false,padding:4,color:'#111',font:{family:'"Liberation Sans", Arial, sans-serif',size:17}},
          grid:{color:'#c4c4c4',lineWidth:1,drawTicks:false},
          border:{display:false,dash:[3,3]},
          title:{display:true,text:c.yTitle,color:'#2a2a2a',padding:{top:c.yTitlePad,bottom:0},font:{family:'"Noto Sans CJK JP"',size:c.yTitleSize||16}}}
      }
    },
    plugins:[plugin]
  });
}
function drawEll(ctx,x,y,e){
  const px=x.getPixelForValue(e.p[0]), py=y.getPixelForValue(e.p[1]);
  const rx=Math.abs(x.getPixelForValue(e.p[0]+e.p[2])-px), ry=Math.abs(y.getPixelForValue(e.p[1]+e.p[3])-py);
  ctx.beginPath();ctx.ellipse(px,py,rx,ry,0,0,Math.PI*2);
  if(e.fill){ctx.fillStyle=e.fill;ctx.fill();}
  if(e.stroke){ctx.strokeStyle=e.stroke;ctx.lineWidth=e.lw||1.5;ctx.stroke();}
}

// (a)
makeChart('cA',{top:15,xH:53,xTitlePad:7,yTitlePad:37,xTicks:ticksX8,yTicks:ticksY7,xTitle:T_JP,yTitle:T_EN,refX:true,refY:true,
  datasets:[ds(aBlack,'#111',1.2),ds(aEnka,C_ENKA),ds(aJpop,C_JPOP_FADE)],
  ellipses:[{p:ellEnkaRef,fill:'rgba(240,205,222,0.75)',stroke:C_ENKA,lw:2.2,after:true},{p:ellJpopTgt,fill:'rgba(60,165,100,0.5)',stroke:C_JPOP,lw:1.6,after:true}],
  texts:[{text:'参照曲',x:-4.29,y:-0.42},{text:'目標',x:-0.1,y:-2.6}],
  boxes:[{text:'演歌データ',x:-4.03,y:0.405,w:91,h:20,color:B_ENKA},{text:'Jポップデータ',x:-0.133,y:-5.32,w:106,h:21,color:B_JPOP}]});
// (d)
makeChart('cD',{top:16,xH:53,xTitlePad:7,yTitlePad:37,xTicks:ticksX7,yTicks:ticksY8,xTitle:T_EN,yTitle:T_JP,refX:true,refY:true,
  datasets:[ds(dJpop,C_JPOP),ds(dEnka,C_ENKA_FADE)],
  ellipses:[{p:ellJpopRef,fill:'rgba(225,242,230,0.7)',stroke:C_JPOP,lw:2.2,after:true},{p:ellEnkaTgt,fill:'rgba(200,130,165,0.5)',stroke:C_ENKA,lw:1.6,after:true}],
  texts:[{text:'参照曲',x:-5.0,y:0.6},{text:'目標',x:-0.34,y:-2.85}],
  boxes:[{text:'Jポップデータ',x:-4.08,y:1.51,w:109,h:22,color:B_JPOP},{text:'演歌データ',x:-0.625,y:-5.24,w:92,h:20,color:B_ENKA}]});
// (b)
makeChart('cB',{top:23,xH:52,xTitlePad:7,yTitlePad:37,xTicks:ticksX8,yTicks:ticksY7,xTitle:T_JP,yTitle:T_EN,refX:true,refY:true,
  datasets:[ds(bA10,C_A10),ds(bA08,C_A08),ds(bA01,C_A01)],
  ellipses:[{p:ellEnkaRef,fill:'#dcc3d0',stroke:C_ENKA,lw:1.6},{p:ellJpopTgt,fill:'rgba(175,222,190,0.75)',stroke:C_JPOP,lw:1.6}],
  leaders:[[-2.24,-3.31,-1.84,-4.6],[-0.7,-4.77,-0.92,-4.46]],
  boxes:[{alpha:'0.1',x:1.0,y:-2.56,w:64,h:22,color:B_A01},{alpha:'10',x:-2.96,y:-5.04,w:65,h:22,color:B_A10},{alpha:'0.8',x:0.47,y:-5.15,w:66,h:21,color:B_A08}]});
// (e)
makeChart('cE',{top:23,xH:52,xTitlePad:7,yTitlePad:37,xTicks:ticksX7,yTicks:ticksY8,xTitle:T_EN,yTitle:T_JP,refX:true,refY:true,
  datasets:[ds(eA10,C_A10),ds(eA08,C_A08),ds(eA01,C_A01)],
  ellipses:[{p:ellJpopRef,fill:'#c6e6cf',stroke:C_JPOP,lw:1.8},{p:ellEnkaTgt,stroke:C_ENKA,lw:1.6,after:true}],
  leaders:[[-2.07,-4.83,-1.51,-3.66],[-1.61,-4.91,-1.11,-3.66],[-1.11,-0.74,-0.95,-2.46]],
  boxes:[{alpha:'0.1',x:-0.19,y:-0.33,w:65,h:22,color:B_A01},{alpha:'10',x:-3.09,y:-5.24,w:65,h:22,color:B_A10},{alpha:'0.8',x:-0.77,y:-5.24,w:66,h:22,color:B_A08}]});
// (c)
makeChart('cC',{top:22,xH:53,xTitlePad:6,yTitlePad:40,yTitleSize:17,xTicks:ticksX8,yTicks:ticksD,xTitle:T_JP,yTitle:T_DIST,refX:true,refY:false,
  datasets:[ds(cA10,C_A10),ds(cA08,C_A08),ds(cA01,C_A01)],
  leaders:[[-0.5,6.45,-0.44,3.36],[-1.63,4.56,-1.3,1.5],[-3.17,0.82,-1.98,0.49]],
  boxes:[{alpha:'0.1',x:0.63,y:6.99,w:64,h:23,color:B_A01},{alpha:'0.8',x:-2.76,y:5.09,w:64,h:22,color:B_A08},{alpha:'10',x:-4.31,y:1.27,w:65,h:21,color:B_A10}]});
// (f)
makeChart('cF',{top:22,xH:53,xTitlePad:6,yTitlePad:40,yTitleSize:17,xTicks:ticksX7,yTicks:ticksD,xTitle:T_EN,yTitle:T_DIST,refX:true,refY:false,
  datasets:[ds(fA10,C_A10),ds(fA08,C_A08),ds(fA01,C_A01)],
  leaders:[[-1.23,8.13,-0.92,3.85],[-3.85,2.74,-1.42,1.44],[-4.1,0.53,-1.42,0.53]],
  boxes:[{alpha:'0.1',x:-0.22,y:8.63,w:65,h:21,color:B_A01},{alpha:'0.8',x:-4.86,y:3.22,w:65,h:21,color:B_A08},{alpha:'10',x:-5.11,y:1.03,w:65,h:21,color:B_A10}]});
</script>
</body></html>
